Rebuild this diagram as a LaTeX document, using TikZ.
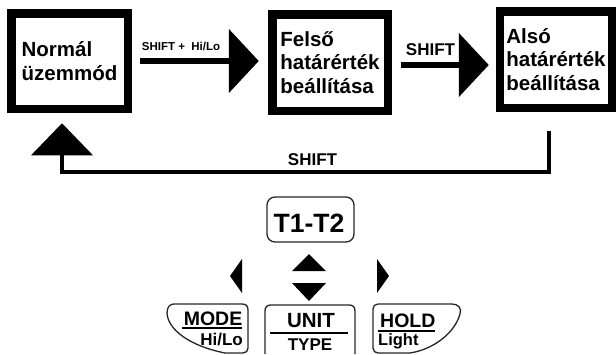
\documentclass[tikz,border=0pt]{standalone}
\usepackage{fontspec}
\setmainfont{Liberation Sans}
\usetikzlibrary{arrows.meta}
\tikzset{
  statebox/.style={draw=black, line width=8.5pt, align=left, inner sep=0pt,
    font=\fontsize{20.5}{23.5}\selectfont\bfseries},
  bigarr/.style={line width=6pt, -{Triangle[length=30pt,width=63pt]}},
  retarr/.style={line width=4pt, -{Triangle[length=32pt,width=61pt]}},
  lbl/.style={anchor=base, inner sep=0pt, font=\bfseries},
  btn/.style={draw=black!85, line width=1.3pt},
  key/.style={inner sep=0pt, font=\bfseries},
}
\begin{document}
\begin{tikzpicture}[x=1pt,y=-1pt]
\useasboundingbox (0,0) rectangle (616,354);
% state boxes
\node[statebox, minimum width=116.5pt, minimum height=95.5pt] (b1) at (69.5,61) {Normál\\üzemmód};
\node[statebox, minimum width=115.5pt, minimum height=96.5pt] (b2) at (330,62.5) {Felső\\határérték\\beállítása};
\node[statebox, minimum width=112.5pt, minimum height=96.5pt] (b3) at (556,59.5) {Alsó\\határérték\\beállítása};
% arrows
\draw[bigarr, shorten <=8.25pt, shorten >=9.25pt] (b1.east) -- (b1.east -| b2.west);
\coordinate (a2s) at ([yshift=-2.5pt]b2.east);
\draw[bigarr, shorten <=9.25pt, shorten >=6.75pt] (a2s) -- (a2s -| b3.west);
\coordinate (r3) at ([xshift=-7pt]b3.south);
\coordinate (rc) at (62,172);
\draw[retarr, shorten <=19.25pt, shorten >=10.25pt] (r3) |- (rc) -- (rc |- b1.south);
% labels
\node[lbl, font=\fontsize{11.5}{13}\selectfont\bfseries] (l1) at (181,50) {SHIFT + \ Hi/Lo};
\node[lbl, font=\fontsize{17}{20}\selectfont\bfseries] (l2) at (430.5,55) {SHIFT};
\node[lbl, font=\fontsize{17}{20}\selectfont\bfseries] (l3) at (312.5,165) {SHIFT};
% keypad
\draw[btn, rounded corners=8pt] (267,197) rectangle (354,242);
\node[key, anchor=base, font=\fontsize{26.5}{30}\selectfont\bfseries] (t12) at (309,232) {T1-T2};
\fill (230,276) -- (242,259) -- (242,293) -- cycle;
\fill (389,276) -- (377,259) -- (377,293) -- cycle;
\fill (309,254) -- (292,271) -- (326,271) -- cycle;
\fill (309,301) -- (292,283) -- (326,283) -- cycle;
% MODE button
\draw[btn] (174,304) -- (242,304) .. controls (246,304) and (248,306) .. (248,310) -- (248,348)
  .. controls (248,351) and (246,353) .. (243,353) -- (225,353)
  .. controls (190,346) and (168,330) .. (167,313)
  .. controls (167,307) and (170,304) .. (174,304) -- cycle;
\node[key, anchor=base east, font=\fontsize{19.5}{20}\selectfont\bfseries] (mode) at (242.5,325) {MODE};
\draw[line width=2pt] (182,328) -- (242,328);
\node[key, anchor=base east, font=\fontsize{17}{20}\selectfont\bfseries] (hilo) at (243,345) {Hi/Lo};
% UNIT button
\draw[btn] (265,354) -- (265,311) .. controls (265,307) and (267,305) .. (271,305) -- (349,305)
  .. controls (353,305) and (355,307) .. (355,311) -- (355,354);
\node[key, anchor=base, font=\fontsize{20.5}{22}\selectfont\bfseries] (unit) at (311,327) {UNIT};
\draw[line width=2pt] (270,333) -- (348,333);
\node[key, anchor=base, font=\fontsize{17}{20}\selectfont\bfseries] (type) at (310,350) {TYPE};
% HOLD button
\draw[btn] (378,304) -- (452,304) .. controls (458,304) and (462,308) .. (460,314)
  .. controls (455,332) and (435,349) .. (410,353) -- (378,353)
  .. controls (375,353) and (373,351) .. (373,348) -- (373,309)
  .. controls (373,306) and (375,304) .. (378,304) -- cycle;
\node[key, anchor=base west, font=\fontsize{19.5}{22}\selectfont\bfseries] (hold) at (380,327) {HOLD};
\draw[line width=2pt] (378,330.5) -- (435,330.5);
\node[key, anchor=base west, font=\fontsize{16.5}{20}\selectfont\bfseries] (light) at (378,345) {Light};
\end{tikzpicture}
\end{document}
